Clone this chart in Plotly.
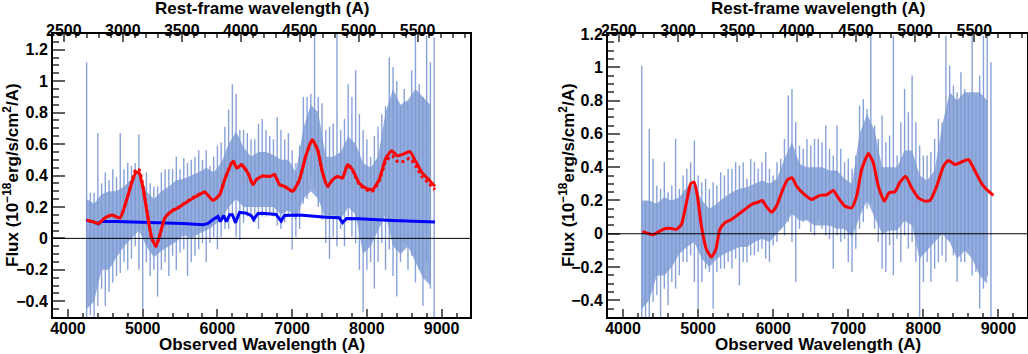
import plotly.graph_objects as go

# observed / rest-frame wavelength ratio (1 + z)
ONE_PLUS_Z = 1.578
OBS_RANGE = [3800, 9380]

# spectrum sampling grid (Angstrom)
WAVE = list(range(4250, 8901, 50))
CORE_WAVE = list(range(4250, 8851, 100))

# left panel: spectrum spike tips / spike bottoms
LEFT_FLUX_HI = [
    1.12, 0.29, 0.29, 0.67, 0.35, 0.42, 0.37, 0.44, 0.39, 0.67,
    0.44, 0.48, 0.46, 0.48, 0.66, 0.33, 0.42, 0.35, 0.33, 0.33,
    0.42, 0.44, 0.44, 0.44, 0.52, 0.44, 0.51, 0.48, 0.50, 0.52,
    0.56, 0.50, 0.56, 0.46, 0.52, 0.59, 0.61, 0.71, 0.82, 0.98,
    0.92, 0.69, 0.69, 0.67, 0.63, 0.63, 0.73, 0.76, 0.69, 0.65,
    0.63, 0.77, 0.69, 0.63, 0.67, 0.56, 0.48, 0.59, 0.90, 0.90,
    0.92, 1.29, 0.90, 0.86, 0.69, 0.71, 0.73, 1.30, 0.69, 0.76,
    0.98, 0.90, 1.07, 0.79, 0.69, 0.63, 0.52, 0.65, 0.71, 0.79,
    0.84, 1.15, 1.09, 1.00, 0.84, 0.95, 0.86, 1.07, 1.29, 0.98,
    0.90, 1.29, 1.12, 1.28,
]
LEFT_FLUX_LO = [
    -0.50, -0.49, -0.50, -0.43, -0.32, -0.43, -0.34, -0.28, -0.24, -0.22,
    -0.15, -0.20, -0.13, -0.05, -0.20, -0.45, -0.15, -0.24, -0.20, -0.37,
    -0.20, -0.15, -0.24, -0.11, -0.20, -0.09, -0.07, -0.24, -0.15, -0.11,
    -0.07, -0.03, -0.15, -0.03, 0.01, -0.07, 0.01, 0.06, 0.06, 0.14,
    0.01, -0.01, 0.10, 0.14, 0.14, 0.10, 0.06, 0.14, 0.14, 0.16,
    0.14, 0.08, 0.06, 0.10, 0.14, -0.07, 0.01, 0.06, 0.22, 0.25,
    0.39, 0.33, 0.20, 0.12, -0.03, -0.13, 0.01, -0.05, 0.06, -0.05,
    0.14, 0.01, -0.03, -0.20, -0.47, -0.20, -0.15, -0.32, -0.15, -0.03,
    -0.20, -0.07, -0.24, -0.37, -0.15, -0.03, -0.20, -0.11, -0.28, -0.20,
    -0.43, -0.15, -0.32, -0.50,
]
# left panel: dense core of the spectrum (every 100 A)
LEFT_CORE_HI = [
    0.25, 0.22, 0.28, 0.30, 0.30, 0.33, 0.38, 0.42, 0.30, 0.25,
    0.30, 0.33, 0.37, 0.38, 0.40, 0.42, 0.45, 0.42, 0.48, 0.60,
    0.68, 0.58, 0.52, 0.55, 0.55, 0.53, 0.50, 0.50, 0.42, 0.70,
    0.85, 0.80, 0.52, 0.52, 0.55, 0.65, 0.60, 0.48, 0.45, 0.52,
    0.80, 0.95, 0.85, 0.88, 0.95, 0.90, 0.85,
]
LEFT_CORE_LO = [
    -0.45, -0.40, -0.20, -0.20, -0.12, -0.05, 0.00, 0.05, -0.05, -0.12,
    -0.08, -0.05, -0.02, 0.02, 0.00, 0.03, 0.05, 0.08, 0.12, 0.20,
    0.25, 0.20, 0.20, 0.20, 0.20, 0.20, 0.15, 0.18, 0.12, 0.25,
    0.30, 0.25, 0.12, 0.15, 0.12, 0.20, 0.15, -0.10, -0.05, 0.05,
    0.15, -0.05, -0.10, -0.05, -0.15, -0.25, -0.30,
]

# right panel: spectrum spike tips / spike bottoms
RIGHT_FLUX_HI = [
    1.01, 0.19, 0.63, 0.45, 0.29, 0.27, 0.43, 0.25, 0.29, 0.57,
    0.27, 0.35, 0.39, 0.43, 0.56, 0.35, 0.31, 0.33, 0.27, 0.31,
    0.29, 0.37, 0.35, 0.39, 0.39, 0.43, 0.41, 0.43, 0.33, 0.45,
    0.43, 0.39, 0.43, 0.49, 0.39, 0.35, 0.43, 0.45, 0.57, 0.83,
    0.87, 0.67, 0.53, 0.51, 0.57, 0.53, 0.57, 0.57, 0.55, 0.65,
    0.51, 0.47, 0.65, 0.51, 0.43, 0.45, 0.39, 0.47, 0.77, 0.81,
    0.75, 1.20, 0.65, 0.57, 0.71, 0.55, 0.59, 1.19, 0.47, 0.67,
    0.87, 0.73, 0.95, 0.67, 0.53, 0.47, 0.47, 0.49, 0.57, 0.69,
    0.67, 1.19, 1.01, 0.89, 0.85, 0.97, 0.87, 0.83, 1.19, 0.83,
    0.95, 1.19, 1.19, 1.03,
]
RIGHT_FLUX_LO = [
    -0.50, -0.50, -0.50, -0.41, -0.37, -0.50, -0.33, -0.43, -0.29, -0.33,
    -0.25, -0.17, -0.17, -0.13, -0.29, -0.45, -0.29, -0.21, -0.23, -0.45,
    -0.23, -0.21, -0.21, -0.17, -0.21, -0.15, -0.31, -0.17, -0.17, -0.13,
    -0.13, -0.11, -0.09, -0.15, -0.17, -0.07, -0.05, 0.03, -0.01, 0.07,
    -0.05, -0.29, 0.03, 0.07, 0.09, 0.01, -0.01, 0.09, 0.03, -0.01,
    -0.03, -0.21, -0.01, -0.05, -0.03, -0.17, -0.23, -0.09, 0.03, 0.07,
    0.15, 0.19, 0.03, -0.05, -0.21, -0.23, -0.07, -0.25, -0.03, -0.17,
    -0.01, -0.09, -0.05, -0.17, -0.50, -0.29, -0.17, -0.29, -0.21, -0.17,
    -0.13, -0.17, -0.05, -0.13, -0.29, -0.17, -0.17, -0.09, -0.25, -0.23,
    -0.45, -0.33, -0.25, -0.50,
]
RIGHT_CORE_HI = [
    0.20, 0.20, 0.18, 0.22, 0.20, 0.22, 0.28, 0.30, 0.20, 0.15,
    0.18, 0.22, 0.25, 0.27, 0.28, 0.30, 0.32, 0.30, 0.33, 0.45,
    0.55, 0.42, 0.40, 0.40, 0.40, 0.38, 0.38, 0.33, 0.30, 0.60,
    0.72, 0.62, 0.40, 0.40, 0.40, 0.50, 0.50, 0.35, 0.32, 0.38,
    0.65, 0.85, 0.80, 0.85, 0.85, 0.85, 0.80,
]
RIGHT_CORE_LO = [
    -0.45, -0.40, -0.25, -0.25, -0.20, -0.12, -0.08, -0.05, -0.15, -0.20,
    -0.15, -0.12, -0.10, -0.08, -0.08, -0.05, -0.03, -0.05, 0.00, 0.05,
    0.12, 0.08, 0.08, 0.05, 0.05, 0.05, 0.03, 0.03, -0.02, 0.10,
    0.20, 0.10, 0.00, 0.02, 0.02, 0.08, 0.05, -0.15, -0.10, -0.05,
    0.00, -0.05, -0.15, -0.10, -0.15, -0.25, -0.30,
]

# left panel: total fit (solid red), alternative fit (dotted red), host (blue)
LEFT_FIT_WAVE = [
    4253, 4341, 4408, 4497, 4587, 4697, 4787, 4853, 4911, 4955,
    5008, 5075, 5120, 5177, 5231, 5297, 5387, 5475, 5587, 5720,
    5831, 5941, 6031, 6097, 6208, 6261, 6320, 6408, 6475, 6520,
    6600, 6700, 6764, 6831, 6897, 7008, 7097, 7187, 7267, 7341,
    7408, 7475, 7541, 7608, 7675, 7741, 7808, 7897, 7987, 8075,
    8164, 8253, 8333, 8408, 8497, 8573, 8653, 8741, 8831, 8911,
]
LEFT_FIT = [
    0.116, 0.105, 0.095, 0.131, 0.148, 0.131, 0.247, 0.352, 0.420, 0.415,
    0.310, 0.120, 0.004, -0.050, 0.025, 0.130, 0.173, 0.194, 0.230, 0.268,
    0.293, 0.242, 0.278, 0.373, 0.490, 0.447, 0.468, 0.416, 0.342, 0.373,
    0.396, 0.394, 0.405, 0.342, 0.331, 0.300, 0.373, 0.530, 0.627, 0.563,
    0.416, 0.331, 0.373, 0.394, 0.384, 0.468, 0.437, 0.352, 0.320, 0.310,
    0.373, 0.510, 0.557, 0.525, 0.538, 0.553, 0.490, 0.416, 0.373, 0.331,
]
LEFT_FIT_ALT = [
    0.116, 0.105, 0.095, 0.131, 0.148, 0.131, 0.250, 0.360, 0.440, 0.435,
    0.320, 0.120, 0.004, -0.050, 0.025, 0.130, 0.175, 0.198, 0.233, 0.272,
    0.296, 0.242, 0.280, 0.375, 0.495, 0.450, 0.470, 0.416, 0.342, 0.373,
    0.396, 0.394, 0.405, 0.342, 0.331, 0.300, 0.373, 0.530, 0.627, 0.563,
    0.416, 0.331, 0.373, 0.394, 0.384, 0.468, 0.430, 0.345, 0.310, 0.300,
    0.365, 0.490, 0.525, 0.490, 0.490, 0.510, 0.460, 0.390, 0.350, 0.310,
]
LEFT_HOST_WAVE = [
    4244, 4341, 4408, 4440, 4653, 5097, 5541, 5808, 5875, 5941,
    6008, 6039, 6084, 6120, 6164, 6200, 6242, 6297, 6386, 6453,
    6484, 6542, 6600, 6786, 6853, 6897, 7097, 7453, 7631, 7675,
    7728, 7897, 8342, 8911,
]
LEFT_HOST = [
    0.116, 0.105, 0.092, 0.107, 0.107, 0.103, 0.095, 0.087, 0.095, 0.120,
    0.140, 0.107, 0.145, 0.107, 0.150, 0.150, 0.100, 0.166, 0.160, 0.145,
    0.120, 0.157, 0.160, 0.152, 0.110, 0.145, 0.148, 0.135, 0.131, 0.100,
    0.127, 0.125, 0.114, 0.105,
]

# right panel: fit (solid red)
RIGHT_FIT_WAVE = [
    4258, 4333, 4400, 4467, 4556, 4644, 4711, 4778, 4844, 4902,
    4947, 4991, 5044, 5111, 5178, 5236, 5289, 5356, 5444, 5533,
    5622, 5711, 5800, 5853, 5911, 5978, 6044, 6111, 6191, 6253,
    6311, 6400, 6511, 6600, 6644, 6711, 6800, 6867, 6956, 7044,
    7111, 7178, 7267, 7333, 7400, 7480, 7542, 7622, 7689, 7764,
    7844, 7933, 8022, 8089, 8178, 8267, 8333, 8422, 8511, 8600,
    8689, 8778, 8867, 8933,
]
RIGHT_FIT = [
    0.012, 0.002, -0.006, 0.010, 0.030, 0.032, 0.026, 0.056, 0.186, 0.302,
    0.310, 0.226, 0.046, -0.094, -0.140, -0.094, 0.026, 0.066, 0.086, 0.116,
    0.146, 0.176, 0.190, 0.200, 0.162, 0.130, 0.166, 0.246, 0.326, 0.336,
    0.286, 0.242, 0.206, 0.226, 0.232, 0.234, 0.260, 0.216, 0.166, 0.156,
    0.226, 0.386, 0.482, 0.426, 0.286, 0.196, 0.246, 0.252, 0.310, 0.346,
    0.276, 0.216, 0.196, 0.200, 0.286, 0.406, 0.440, 0.416, 0.432, 0.446,
    0.376, 0.300, 0.256, 0.230,
]

SPEC_COLOR = "rgb(122,152,212)"
SPIKE_COLOR = "rgba(122,152,212,0.9)"
CORE_FILL = "rgba(122,152,212,0.8)"
FONT = "Liberation Sans"
TICK_FONT = dict(family=FONT, size=16, color="black", weight="bold")
TITLE_FONT = dict(family=FONT, size=17, color="black", weight="bold")

X_TITLE = "Observed Wavelength (A)"
TOP_TITLE = "Rest-frame wavelength (A)"
Y_TITLE = "Flux (10<sup>\u221218</sup>erg/s/cm<sup>2</sup>/A)"


def spikes(wave, hi, lo):
    """Vertical segments from the spike bottom to the spike tip at each sample."""
    xs, ys = [], []
    for w, h, l in zip(wave, hi, lo):
        xs += [w, w, None]
        ys += [l, h, None]
    return xs, ys


def add_spectrum(fig, hi, lo, core_hi, core_lo, xref, yref):
    sx, sy = spikes(WAVE, hi, lo)
    fig.add_trace(go.Scatter(x=sx, y=sy, mode="lines",
                             line=dict(color=SPIKE_COLOR, width=1.4),
                             xaxis=xref, yaxis=yref, hoverinfo="skip"))
    fig.add_trace(go.Scatter(x=CORE_WAVE, y=core_lo, mode="lines", line=dict(width=0),
                             xaxis=xref, yaxis=yref, hoverinfo="skip"))
    fig.add_trace(go.Scatter(x=CORE_WAVE, y=core_hi, mode="lines", line=dict(width=0),
                             fill="tonexty", fillcolor=CORE_FILL,
                             xaxis=xref, yaxis=yref, hoverinfo="skip"))


fig = go.Figure()
add_spectrum(fig, LEFT_FLUX_HI, LEFT_FLUX_LO, LEFT_CORE_HI, LEFT_CORE_LO, "x", "y")
add_spectrum(fig, RIGHT_FLUX_HI, RIGHT_FLUX_LO, RIGHT_CORE_HI, RIGHT_CORE_LO, "x3", "y2")

fig.add_trace(go.Scatter(x=LEFT_HOST_WAVE, y=LEFT_HOST, mode="lines",
                         line=dict(color="#0000ff", width=3), xaxis="x", yaxis="y"))
fig.add_trace(go.Scatter(x=LEFT_FIT_WAVE, y=LEFT_FIT_ALT, mode="lines",
                         line=dict(color="#ff0000", width=3, dash="dot", shape="spline", smoothing=0.5),
                         xaxis="x", yaxis="y"))
fig.add_trace(go.Scatter(x=LEFT_FIT_WAVE, y=LEFT_FIT, mode="lines",
                         line=dict(color="#ff0000", width=3, shape="spline", smoothing=0.5),
                         xaxis="x", yaxis="y"))
fig.add_trace(go.Scatter(x=RIGHT_FIT_WAVE, y=RIGHT_FIT, mode="lines",
                         line=dict(color="#ff0000", width=3, shape="spline", smoothing=0.5),
                         xaxis="x3", yaxis="y2"))

W, H = 1028, 354
left_dom = [53 / W, 470 / W]
right_dom = [608 / W, 1027 / W]
y_dom = [(H - 317) / H, (H - 34) / H]
rest_range = [r / ONE_PLUS_Z for r in OBS_RANGE]

axis_common = dict(showline=True, linecolor="black", linewidth=2, ticks="inside",
                   tickcolor="#606060", tickwidth=2, showgrid=False, zeroline=False,
                   automargin=False, tickfont=TICK_FONT)
obs_axis = dict(axis_common, range=OBS_RANGE, dtick=1000, ticklen=8,
                ticklabelstandoff=-4,
                minor=dict(dtick=200, ticklen=4, ticks="inside", tickcolor="#606060", tickwidth=2))
rest_axis = dict(axis_common, range=rest_range, dtick=500, ticklen=8, side="top",
                 ticklabelstandoff=-10,
                 minor=dict(dtick=100, ticklen=4, ticks="inside", tickcolor="#606060", tickwidth=2))
flux_axis = dict(axis_common, dtick=0.2, ticklen=12, mirror=True, domain=y_dom,
                 minor=dict(dtick=0.05, ticklen=6, ticks="inside", tickcolor="#606060", tickwidth=2))

fig.update_layout(
    width=W, height=H, margin=dict(l=0, r=0, t=0, b=0),
    paper_bgcolor="white", plot_bgcolor="white", showlegend=False,
    xaxis=dict(obs_axis, domain=left_dom, anchor="y"),
    xaxis2=dict(rest_axis, overlaying="x", anchor="y"),
    yaxis=dict(flux_axis, range=[-0.5, 1.3], anchor="x"),
    xaxis3=dict(obs_axis, domain=right_dom, anchor="y2"),
    xaxis4=dict(rest_axis, overlaying="x3", anchor="y2"),
    yaxis2=dict(flux_axis, range=[-0.5, 1.2], anchor="x3"),
)
# bind the top axes so they are drawn
fig.add_trace(go.Scatter(x=[], y=[], xaxis="x2", yaxis="y"))
fig.add_trace(go.Scatter(x=[], y=[], xaxis="x4", yaxis="y2"))

for xr, yr in (("x domain", "y"), ("x3 domain", "y2")):
    fig.add_shape(type="line", xref=xr, yref=yr, x0=0, x1=1, y0=0, y1=0,
                  line=dict(color="black", width=1), layer="above")

# axis titles, placed in figure pixels
for cx, ycx in ((262, 11), (818, 567)):
    fig.add_annotation(text=TOP_TITLE, x=cx / W, y=1 - 8 / H, xref="paper", yref="paper",
                       showarrow=False, font=TITLE_FONT, xanchor="center", yanchor="middle")
    fig.add_annotation(text=X_TITLE, x=cx / W, y=1 - 344 / H, xref="paper", yref="paper",
                       showarrow=False, font=TITLE_FONT, xanchor="center", yanchor="middle")
    fig.add_annotation(text=Y_TITLE, x=ycx / W, y=1 - 175 / H, xref="paper", yref="paper",
                       showarrow=False, font=TITLE_FONT, textangle=-90,
                       xanchor="center", yanchor="middle")

fig.write_html("out.html", config={"displayModeBar": False},
               post_script="document.body.style.margin = '0';")
